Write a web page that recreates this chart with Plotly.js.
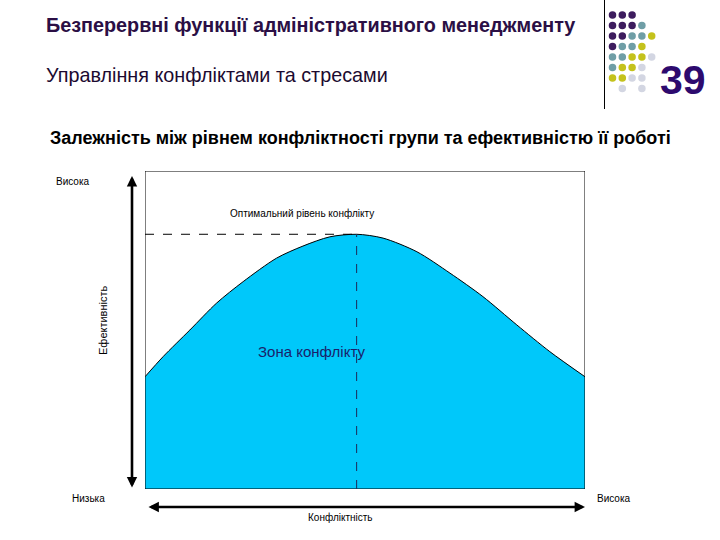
<!DOCTYPE html>
<html>
<head>
<meta charset="utf-8">
<script src="https://cdn.plot.ly/plotly-3.0.1.min.js"></script>
<style>html,body{margin:0;padding:0;background:#fff;}#chart{width:720px;height:540px;}</style>
</head>
<body>
<div id="chart"></div>
<script>
// Curve: conflict level (x, 0..100) vs efficiency (y, 0..100)
var conflictLevel = [0, 4.1, 10.2, 16.3, 22.3, 29.9, 35.9, 42.0, 48.1, 54.1, 61.8, 69.3, 76.8, 84.5, 92.0, 100];
var efficiency    = [35.3, 41.6, 50.0, 58.5, 65.2, 72.6, 76.4, 79.3, 80.1, 78.9, 74.6, 67.9, 60.5, 51.6, 43.2, 35.3];

// Texts
var titleMain = "Безперервні функції адміністративного менеджменту";
var titleSub = "Управління конфліктами та стресами";
var chartHeading = "Залежність між рівнем конфліктності групи та ефективністю її роботі";
var yAxisLabel = "Ефективність";
var xAxisLabel = "Конфліктність";
var highLabel = "Висока";
var lowLabel = "Низька";
var optimumLabel = "Оптимальний рівень конфлікту";
var zoneLabel = "Зона конфлікту";
var slideNumber = "39";

// Decorative dot grid (P purple, T teal, Y yellow, G light grey, . empty)
var dotRows = ["PPP..", "PPPT.", "PPTTY", "PTTY.", "TTYYG", "TYYG.", "YYGG.", ".G.G."];
var dotPalette = {P: "#3d1c5e", T: "#6f9ea6", Y: "#c4c21c", G: "#d3d6e2"};

// peak
var peakIdx = 0;
for (var i = 1; i < efficiency.length; i++) if (efficiency[i] > efficiency[peakIdx]) peakIdx = i;
var peakX = conflictLevel[peakIdx], peakY = efficiency[peakIdx];

// dots in pixel space
var dx = [], dy = [], dc = [];
dotRows.forEach(function (row, r) {
  for (var c = 0; c < row.length; c++) {
    var ch = row[c];
    if (ch === ".") continue;
    dx.push(612.5 + c * 9.8);
    dy.push(15 + r * 10.5);
    dc.push(dotPalette[ch]);
  }
});

var traces = [
  {
    x: conflictLevel, y: efficiency, type: "scatter", mode: "lines",
    line: {color: "#000000", width: 1, shape: "spline", smoothing: 0.8},
    fill: "tozeroy", fillcolor: "#00c8fa", hoverinfo: "skip", xaxis: "x", yaxis: "y"
  },
  {
    x: dx, y: dy, type: "scatter", mode: "markers",
    marker: {size: 7.5, color: dc, line: {width: 0}}, hoverinfo: "skip", xaxis: "x2", yaxis: "y2"
  }
];

var F = "Liberation Sans, Arial, sans-serif";
function txt(x, y, t, size, color, extra) {
  var a = {x: x, y: y, xref: "x2", yref: "y2", text: t, showarrow: false,
    font: {family: F, size: size, color: color || "#000"}, xanchor: "center", yanchor: "middle"};
  if (extra) for (var k in extra) a[k] = extra[k];
  return a;
}

var annotations = [
  txt(44, 25, "<b>" + titleMain + "</b>", 19.8, "#2b0f45", {xanchor: "left"}),
  txt(44, 75, titleSub, 19.8, "#1c0a30", {xanchor: "left"}),
  txt(360, 138, "<b>" + chartHeading + "</b>", 18, "#000"),
  txt(683, 80, "<b>" + slideNumber + "</b>", 41, "#2d0a6e"),
  txt(73, 181, highLabel, 10, "#000"),
  txt(88, 498, lowLabel, 10, "#000"),
  txt(614, 498, highLabel, 10, "#000"),
  txt(340, 517, xAxisLabel, 10, "#000"),
  txt(302, 213, optimumLabel, 10, "#000"),
  txt(103, 320, yAxisLabel, 11, "#000", {textangle: -90}),
  txt(311, 351, zoneLabel, 15, "#1a1f6a"),
  // arrows
  {x: 132, y: 176, xref: "x2", yref: "y2", ax: 132, ay: 489, axref: "x2", ayref: "y2",
   text: "", showarrow: true, arrowhead: 2, arrowside: "end+start", arrowsize: 0.8, arrowwidth: 2.6, arrowcolor: "#000"},
  {x: 585, y: 507, xref: "x2", yref: "y2", ax: 147, ay: 507, axref: "x2", ayref: "y2",
   text: "", showarrow: true, arrowhead: 2, arrowside: "end+start", arrowsize: 0.8, arrowwidth: 2.6, arrowcolor: "#000"}
];

var shapes = [
  {type: "rect", xref: "x", yref: "y", x0: 0, x1: 100, y0: 0, y1: 100, line: {color: "#000", width: 1}},
  {type: "line", xref: "x", yref: "y", x0: 0, x1: peakX, y0: peakY, y1: peakY, line: {color: "#000", width: 1, dash: "dash"}},
  {type: "line", xref: "x", yref: "y", x0: peakX, x1: peakX, y0: 0, y1: peakY, line: {color: "#1b2a5a", width: 1, dash: "dash"}},
  {type: "line", xref: "x2", yref: "y2", x0: 604.5, x1: 604.5, y0: 0, y1: 109, line: {color: "#000", width: 1}}
];

var layout = {
  width: 720, height: 540,
  margin: {l: 0, r: 0, t: 0, b: 0},
  paper_bgcolor: "#ffffff", plot_bgcolor: "rgba(0,0,0,0)",
  showlegend: false,
  xaxis: {domain: [145 / 720, 585 / 720], range: [0, 100], visible: false, fixedrange: true},
  yaxis: {domain: [1 - 489 / 540, 1 - 171 / 540], range: [0, 100], visible: false, fixedrange: true},
  xaxis2: {domain: [0, 1], range: [0, 720], visible: false, anchor: "y2", fixedrange: true},
  yaxis2: {domain: [0, 1], range: [540, 0], visible: false, anchor: "x2", fixedrange: true},
  annotations: annotations,
  shapes: shapes
};

Plotly.newPlot("chart", traces, layout, {staticPlot: true, displayModeBar: false});
</script>
</body>
</html>
